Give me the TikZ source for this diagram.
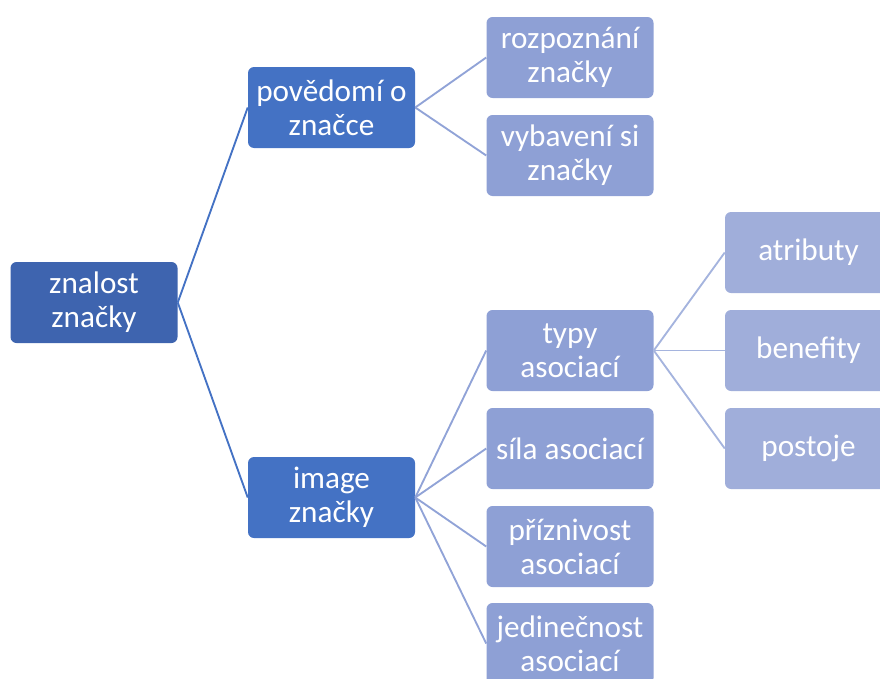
\documentclass[tikz,border=0pt]{standalone}
\usepackage{fontspec}
\setmainfont{Carlito}
\usepackage{xcolor}
\definecolor{tmavamodra}{RGB}{62, 100, 175}
\definecolor{modra}{RGB}{68, 114, 196}
\definecolor{svetlemodra}{RGB}{142, 160, 213}
\definecolor{nejsvetlejsi}{RGB}{160, 174, 218}
\definecolor{carasvetla}{RGB}{145, 163, 215}
\definecolor{caranejsvetlejsi}{RGB}{165, 180, 222}
\usetikzlibrary{positioning}

\tikzset{
    krabice/.style={rounded corners=4.5pt, minimum width=125.25pt, minimum height=60.75pt,
        inner sep=2pt, align=center, text=white, font=\fontsize{23.4}{25.5}\selectfont},
    koren/.style={krabice, fill=tmavamodra},
    uroven1/.style={krabice, fill=modra},
    uroven2/.style={krabice, fill=svetlemodra},
    uroven3/.style={krabice, fill=nejsvetlejsi},
    spoj1/.style={modra, line width=1.4pt},
    spoj2/.style={carasvetla, line width=1.4pt},
    spoj3/.style={caranejsvetlejsi, line width=1.4pt}
}

\begin{document}
\begin{tikzpicture}[x=0.75pt, y=-0.75pt]
        % Okraje obrázku
        \path[use as bounding box, clip] (0,0) rectangle (880,678);
        % Kořen a první úroveň
        \node[koren] (znalost) at (94,302.5) {znalost\\značky};
        \node[uroven1] (povedomi) at (331.5,107.5) {povědomí o\\značce};
        \node[uroven1] (image) at (331.5,497.5) {image\\značky};
        % Druhá úroveň
        \node[uroven2] (rozpoznani) at (570,57.5) {rozpoznání\\značky};
        \node[uroven2] (vybaveni) at (570,155.5) {vybavení si\\značky};
        \node[uroven2] (typy) at (570,350.5) {typy\\asociací};
        \node[uroven2] (sila) at (570,448.5) {síla asociací};
        \node[uroven2] (priznivost) at (570,546.5) {příznivost\\asociací};
        \node[uroven2] (jedinecnost) at (570,643.5) {jedinečnost\\asociací};
        % Třetí úroveň
        \node[uroven3] (atributy) at (808.5,252.5) {atributy};
        \node[uroven3] (benefity) at (808.5,350.5) {benefity};
        \node[uroven3] (postoje) at (808.5,448.5) {postoje};
        % Spojnice
        \foreach \cil in {povedomi, image} {
            \draw[spoj1] (znalost.east) -- (\cil.west);
        }
        \foreach \cil in {rozpoznani, vybaveni} {
            \draw[spoj2] (povedomi.east) -- (\cil.west);
        }
        \foreach \cil in {typy, sila, priznivost, jedinecnost} {
            \draw[spoj2] (image.east) -- (\cil.west);
        }
        \foreach \cil in {atributy, benefity, postoje} {
            \draw[spoj3] (typy.east) -- (\cil.west);
        }
    \end{tikzpicture}
\end{document}
